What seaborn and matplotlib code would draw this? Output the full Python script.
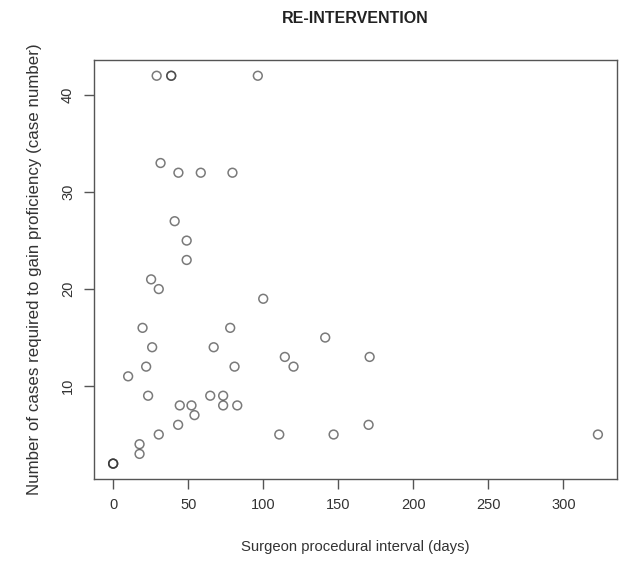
import matplotlib
matplotlib.use("Agg")
import matplotlib.pyplot as plt
import seaborn as sns
import pandas as pd

interval_days = [0, 0, 0, 10, 17.6, 17.6, 19.6, 22, 23.3, 25.3, 26, 29, 30.4, 30.4, 31.6,
                 38.7, 38.7, 41, 43.3, 43.5, 44.4, 49, 49, 52.2, 54.2, 58.4, 64.7, 67,
                 73.3, 73.3, 78, 79.5, 80.9, 82.7, 96.4, 100, 110.7, 114.4, 120.2, 141.3,
                 146.9, 170.2, 170.9, 323]
cases_needed = [2, 2, 2, 11, 3, 4, 16, 12, 9, 21, 14, 42, 5, 20, 33,
                42, 42, 27, 6, 32, 8, 25, 23, 8, 7, 32, 9, 14,
                9, 8, 16, 32, 12, 8, 42, 19, 5, 13, 12, 15,
                5, 6, 13, 5]
x_ticks = [0, 50, 100, 150, 200, 250, 300]
y_ticks = [10, 20, 30, 40]

df = pd.DataFrame({"interval": interval_days, "cases": cases_needed})

sns.set_style("white")
plt.rcParams["font.family"] = ["Liberation Sans", "DejaVu Sans"]

fig = plt.figure(figsize=(6.21, 5.63), dpi=100)
ax = fig.add_axes([0.151, 0.149, 0.843, 0.744])

sns.scatterplot(data=df, x="interval", y="cases", ax=ax, marker="o", s=40,
                facecolor="none", edgecolor=(0.2, 0.2, 0.2, 0.65), linewidth=1.1)

ax.set_xlim(-12.9, 335.9)
ax.set_ylim(0.4, 43.6)
ax.set_xticks(x_ticks)
ax.set_yticks(y_ticks)
for s in ax.spines.values():
    s.set_color("#555555")
    s.set_linewidth(1.0)
ax.tick_params(axis="both", direction="out", length=7.5, width=1, color="#555555",
               labelsize=10.5, labelcolor="#333333", pad=6)
ax.tick_params(left=True, bottom=True)
for lbl in ax.get_yticklabels():
    lbl.set_rotation(90)
    lbl.set_va("center")
ax.set_xlabel("Surgeon procedural interval (days)", fontsize=10.7, color="#333333", labelpad=20)
ax.set_ylabel("Number of cases required to gain proficiency (case number)", fontsize=12.2,
              color="#333333", labelpad=14)
fig.text(0.572, 0.968, "RE-INTERVENTION", ha="center", va="center", fontsize=11.5,
         fontweight="bold", color="#222222")

fig.savefig("out.png", dpi=100)
